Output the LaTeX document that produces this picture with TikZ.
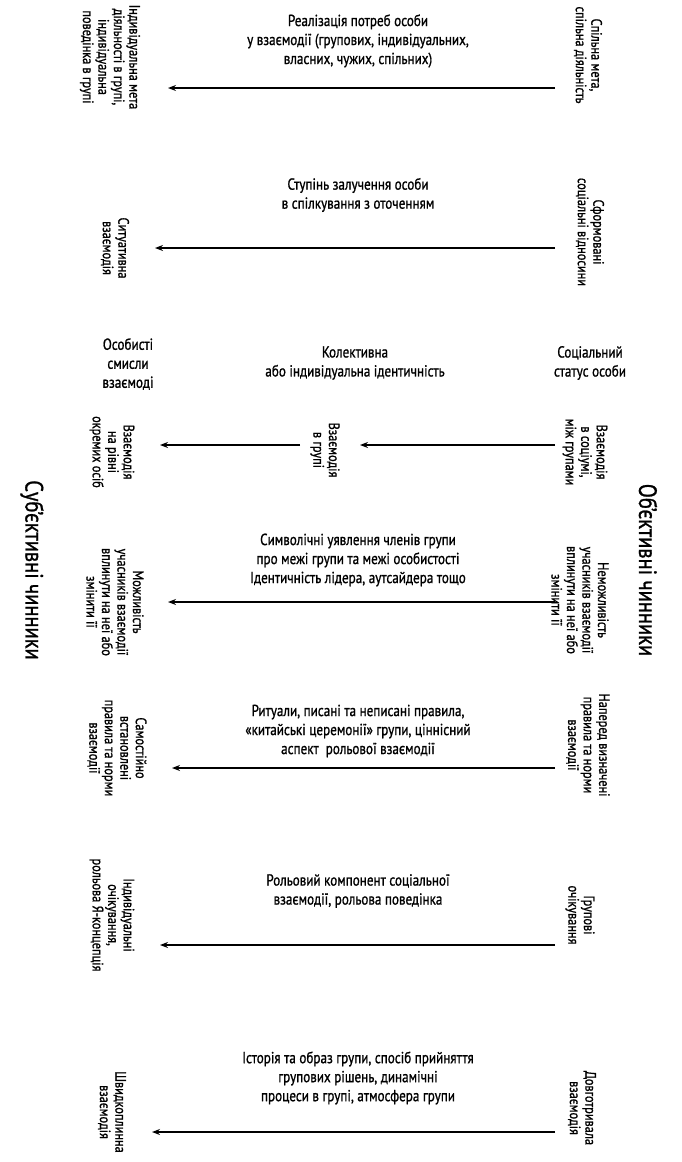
\documentclass[tikz,border=0pt]{standalone}
\usepackage{fontspec}
\setmainfont{PT Sans}[FakeStretch=0.82,FakeBold=1]
\usetikzlibrary{arrows.meta}

\begin{document}
\begin{tikzpicture}[x=1pt,y=-1pt,>={Stealth[length=8pt,width=6pt]},
side/.style={rotate=-90,align=center,inner sep=0pt,font=\fontsize{15}{15.5}\selectfont},
mid/.style={align=center,inner sep=0pt,font=\fontsize{16}{19}\selectfont},
head/.style={rotate=-90,inner sep=0pt,font=\fontsize{25}{28}\selectfont},
arr/.style={->,line width=1.3pt}]
\useasboundingbox (0,0) rectangle (682,1162);
\node[head](obj) at (648,570){Об’єктивні чинники};
\node[head](subj) at (32,570){Суб’єктивні чинники};
\node[side](r1) at (588,55){Спільна мета,\\спільна діяльність};
\node[side](r2) at (590,232){Сформовані\\соціальні відносини};
\node[side](r3) at (585,452){Взаємодія\\в соціумі,\\між групами};
\node[side](r4) at (580,600){Неможливість\\учасників взаємодії\\вплинути на неї або\\змінити її};
\node[side](r5) at (588,745){Наперед визначені\\правила та норми\\взаємодії};
\node[side](r6) at (580,915){Групові\\очікування};
\node[side](r7) at (582,1108){Довготривала\\взаємодія};
\node[side](l1) at (110,57){Індивідуальна мета\\діяльності в групі,\\індивідуальна\\поведінка в групі};
\node[side](l2) at (115,248){Ситуативна\\взаємодія};
\node[side](l3) at (112,452){Взаємодія\\на рівні\\окремих осіб};
\node[side](m3) at (325,450){Взаємодія\\в групі};
\node[side](l4) at (115,602){Можливість\\учасників взаємодії\\вплинути на неї або\\змінити її};
\node[side](l5) at (117,748){Самостійно\\встановлені\\правила та норми\\взаємодії};
\node[side](l6) at (112,915){Індивідуальні\\очікування,\\рольова Я-концепція};
\node[side](l7) at (112,1112){Швидкоплинна\\взаємодія};
\node[mid](h1) at (128,364){Особисті\\смисли\\взаємоді};
\node[mid](h2) at (355,363){Колективна\\або індивідуальна ідентичність};
\node[mid](h3) at (590,363){Соціальний\\статус особи};
\node[mid](c1) at (358,41){Реалізація потреб особи\\у взаємодії (групових, індивідуальних,\\власних, чужих, спільних)};
\node[mid](c2) at (358,195){Ступінь залучення особи\\в спілкування з оточенням};
\node[mid](c4) at (358,560){Символічні уявлення членів групи\\про межі групи та межі особистості\\Ідентичність лідера, аутсайдера тощо};
\node[mid](c5) at (358,731){Ритуали, писані та неписані правила,\\«китайські церемонії» групи, ціннісний\\аспект\ \ рольової взаємодії};
\node[mid](c6) at (358,891){Рольовий компонент соціальної\\взаємодії, рольова поведінка};
\node[mid](c7) at (358,1078){Історія та образ групи, спосіб прийняття\\групових рішень, динамічні\\процеси в групі, атмосфера групи};
\coordinate(s1) at (555,88);
\coordinate(e1) at (168,88);
\coordinate(s2) at (555,248);
\coordinate(e2) at (155,248);
\coordinate(s3) at (555,445);
\coordinate(e3) at (360,445);
\coordinate(s3b) at (300,445);
\coordinate(e3b) at (160,445);
\coordinate(s4) at (555,602);
\coordinate(e4) at (168,602);
\coordinate(s5) at (555,768);
\coordinate(e5) at (172,768);
\coordinate(s6) at (555,945);
\coordinate(e6) at (160,945);
\coordinate(s7) at (555,1132);
\coordinate(e7) at (152,1132);
\draw[arr](s1)--(e1);
\draw[arr](s2)--(e2);
\draw[arr](s3)--(e3);
\draw[arr](s3b)--(e3b);
\draw[arr](s4)--(e4);
\draw[arr](s5)--(e5);
\draw[arr](s6)--(e6);
\draw[arr](s7)--(e7);
\end{tikzpicture}
\end{document}
